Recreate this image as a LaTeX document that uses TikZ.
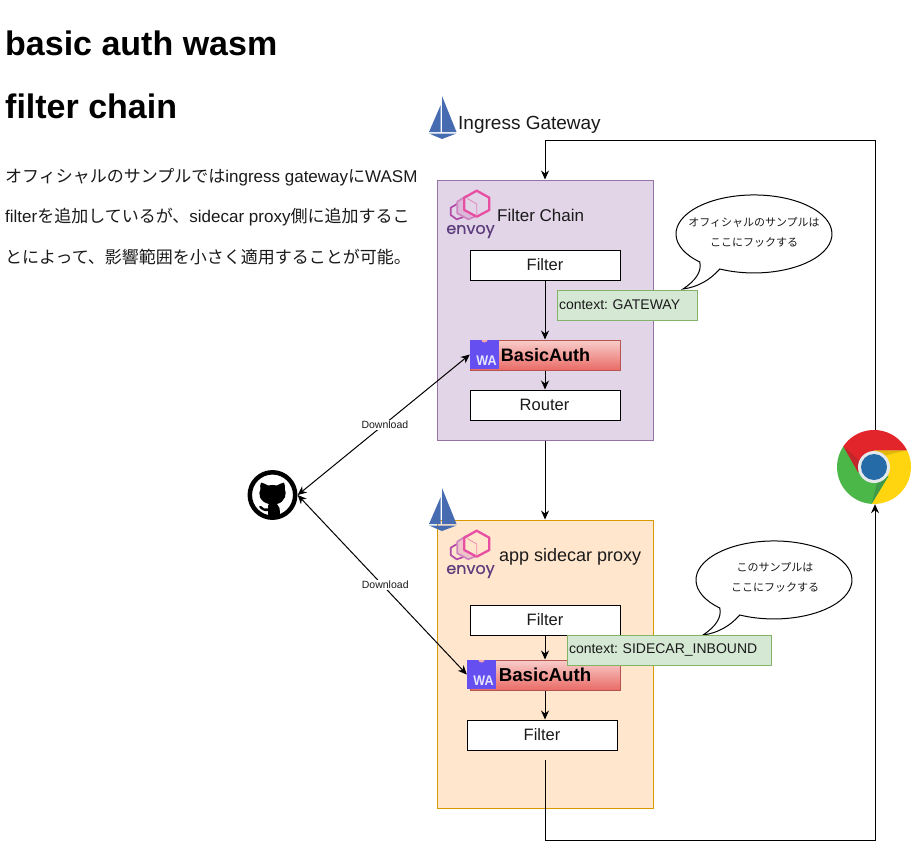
\documentclass[tikz,border=0pt]{standalone}
\usepackage{fontspec}
\setmainfont{Liberation Sans}
\newfontfamily\cjk{Noto Sans CJK JP}
\newfontfamily\logofont[FakeBold=0.4]{Poppins}
\usetikzlibrary{arrows.meta}
\frenchspacing
\definecolor{txt}{HTML}{1A1A1A}
\definecolor{sail}{HTML}{466BB0}
\definecolor{evA}{HTML}{E84FA3}
\definecolor{evB}{HTML}{CE85C0}
\definecolor{evC}{HTML}{B24AA8}
\definecolor{evT}{HTML}{5C3B7C}
\definecolor{pinkA}{HTML}{F8CECC}
\definecolor{pinkB}{HTML}{EA6B66}
\definecolor{pinkLine}{HTML}{B85450}
\definecolor{ctxline}{HTML}{82B366}
\definecolor{ctxfill}{HTML}{D5E8D4}
\definecolor{wablue}{HTML}{654FF0}
\definecolor{wanotch}{HTML}{F4A9A9}
\definecolor{purpleFill}{HTML}{E1D5E7}
\definecolor{purpleLine}{HTML}{9673A6}
\definecolor{orangeFill}{HTML}{FFE6CC}
\definecolor{orangeLine}{HTML}{D79B00}
\definecolor{chromeG}{HTML}{4CB749}
\definecolor{chromeDG}{HTML}{3E9A46}
\definecolor{chromeY}{HTML}{FFD50F}
\definecolor{chromeDY}{HTML}{E0B90C}
\definecolor{chromeR}{HTML}{E2242B}
\definecolor{chromeDR}{HTML}{C2272B}
\definecolor{chromeRing}{HTML}{E6E9EC}
\definecolor{chromeB}{HTML}{256BA8}
\tikzset{
  box/.style={draw=black,fill=white,line width=1pt,minimum width=150pt,minimum height=30pt,inner sep=0pt,font=\fontsize{16.5}{18}\selectfont,text=txt},
  zone/.style={line width=1pt,minimum width=216pt,inner sep=0pt},
  authbox/.style={draw=pinkLine,line width=1pt,top color=pinkA,bottom color=pinkB,minimum width=150pt,minimum height=30pt,inner sep=0pt,text=black,font=\bfseries\fontsize{18}{20}\selectfont},
  ctx/.style={draw=ctxline,fill=ctxfill,line width=1pt,minimum height=30pt,inner xsep=2pt,inner ysep=0pt,align=left,font=\fontsize{14}{16}\selectfont,text=txt},
  conn/.style={draw=black,line width=1pt,-{Stealth[length=9pt,width=8pt]}},
  conntwo/.style={draw=black,line width=1pt,{Stealth[length=9pt,width=8pt]}-{Stealth[length=9pt,width=8pt]}},
  dl/.style={fill=white,inner sep=1pt,font=\fontsize{10.5}{12}\selectfont,text=txt},
  waicon/.style={fill=wablue,inner sep=0pt,minimum width=29pt,minimum height=29pt},
  watext/.style={inner sep=0pt,text=white!85!wablue,font=\bfseries\fontsize{14}{14}\selectfont},
  balloon/.style={draw=black,fill=white,line width=1pt},
  balloontext/.style={align=center,inner sep=0pt,font=\cjk\fontsize{11}{20}\selectfont,text=txt},
  plaintext/.style={inner sep=0pt,text=txt}
}
\newcommand{\envoylogo}[1]{%
  \draw[evC,line width=1.7pt,line join=round] (459.3,202.7) -- (450.7,207.7) -- (450.7,215) -- (456.7,219.3) -- (463.5,217);
  \draw[evB,line width=1.7pt,line join=round,fill=evB!35!#1] (466,196) -- (457.3,201.7) -- (457.3,213.3) -- (468.3,219.3) -- (475,216.5) -- (470,205) -- cycle;
  \draw[evA,line width=2.3pt,line join=round,fill=#1] (476.7,190.7) -- (489.3,197.7) -- (489.3,210) -- (476.7,216.7) -- (464.3,210) -- (464.3,197.7) -- cycle;
  \draw[evA!60!#1,line width=.8pt] (467.3,198.5) -- (476.7,204) -- (476.7,216);
  \node[inner sep=0pt,text=evT,font=\logofont\fontsize{16}{18}\selectfont] at (470.5,231.5) {envoy};
}
\newcommand{\sailmark}{%
  \fill[sail] (442,96) -- (456.5,132) -- (442,132) -- cycle;
  \fill[sail] (440.7,105) -- (440.7,132) -- (429,132) -- cycle;
  \fill[sail] (429,133.5) -- (456.5,133.5) -- (442,139) -- cycle;
}
\begin{document}
\begin{tikzpicture}[x=1pt,y=1pt,yscale=-1]
\useasboundingbox[fill=white] (0,0) rectangle (913,849);

% title and text
\node[anchor=west,plaintext,align=left,text=black,font=\bfseries\fontsize{34}{63}\selectfont] (title) at (5,74.5) {basic auth wasm\\filter chain};
\node[anchor=west,plaintext,align=left,font=\fontsize{17}{40.5}\selectfont] (para) at (5,216.5) {{\cjk オフィシャルのサンプルでは}ingress gateway{\cjk に}WASM\\filter{\cjk を追加しているが、}sidecar proxy{\cjk 側に追加するこ}\\{\cjk とによって、影響範囲を小さく適用することが可能。}};

% zones
\node[zone,draw=purpleLine,fill=purpleFill,minimum height=260pt] (gw) at (545,310) {};
\node[zone,draw=orangeLine,fill=orangeFill,minimum height=288pt] (app) at (545,664) {};

% istio marks
\sailmark
\begin{scope}[shift={(0,392)}]\sailmark\end{scope}
\node[anchor=west,plaintext,font=\fontsize{19}{20}\selectfont] (gwlabel) at (458,125) {Ingress Gateway};

% envoy logos
\envoylogo{purpleFill}
\begin{scope}[shift={(0,340)}]\envoylogo{orangeFill}\end{scope}
\node[anchor=west,plaintext,font=\fontsize{17}{18}\selectfont] (fc) at (497,215) {Filter Chain};
\node[anchor=west,plaintext,font=\fontsize{18}{20}\selectfont] (asp) at (499,557) {app sidecar proxy};

% boxes
\node[box] (f1) at (545,265) {Filter};
\node[authbox] (ba1) at (545,355) {\hspace*{1pt}BasicAuth};
\node[box] (r1) at (545,405) {\hspace*{-1pt}Router};
\node[box] (f2) at (545,620) {Filter};
\node[authbox] (ba2) at (545,675) {\fontsize{18.7}{20}\selectfont BasicAuth};
\node[box] (f3) at (542,735) {Filter};

% WA icons
\node[waicon] (wa1) at (484.5,354.5) {};
\fill[wanotch] (481.5,340) arc[start angle=180,end angle=0,x radius=3,y radius=2.5] -- cycle;
\node[watext] (wat1) at (486.5,360.5) {\scalebox{.9}[1]{WA}};
\node[waicon] (wa2) at (481.5,674.5) {};
\fill[wanotch] (478.5,660) arc[start angle=180,end angle=0,x radius=3,y radius=2.5] -- cycle;
\node[watext] (wat2) at (483.5,680.5) {\scalebox{.9}[1]{WA}};

% balloons
\draw[balloon] (683,289) .. controls (695,281) and (702,272) .. (699.8,262)
  arc[start angle=134,end angle=476,x radius=78,y radius=39]
  .. controls (710,280) and (698,287) .. (683,289) -- cycle;
\node[balloontext] (b1) at (754,232) {オフィシャルのサンプルは\\ここにフックする};
\draw[balloon] (703,635) .. controls (715,627) and (722,618) .. (719.8,608)
  arc[start angle=134,end angle=476,x radius=78,y radius=39]
  .. controls (730,626) and (718,633) .. (703,635) -- cycle;
\node[balloontext] (b2) at (775,577) {このサンプルは\\ここにフックする};

% chrome
\node[circle,inner sep=0pt,minimum size=74pt] (chrome) at (875,467) {};
\fill[chromeG] (871.7,503.9) arc[start angle=93.6,end angle=214.2,radius=37] -- (874,467) -- (888.5,476) -- cycle;
\fill[chromeY] (907,450.3) arc[start angle=-26.8,end angle=93.6,radius=37] -- (888.5,476) -- (874,467) -- (874,450.3) -- cycle;
\fill[chromeDY] (907,450.3) -- (874,450.3) -- (884,456) -- (893,453.5) -- cycle;
\fill[chromeDG] (871.7,503.9) -- (888.5,476) -- (877,483) -- cycle;
\fill[chromeR] (843.4,446.2) arc[start angle=214.2,end angle=333.2,radius=37] -- (874,450.3) -- (858,472) -- cycle;
\fill[chromeDR] (843.4,446.2) -- (858,472) -- (861,462) -- cycle;
\fill[chromeRing] (874,467) circle[radius=16];
\fill[chromeB] (874,467) circle[radius=13];

% github
\node[circle,inner sep=0pt,minimum size=50pt] (gh) at (272.5,495) {};
\draw[black,line width=4.5pt] (272.5,495) circle[radius=22.7];
\fill[black] (261,482.5) .. controls (264,483) and (266,484.5) .. (268,485.5)
  .. controls (271,484.8) and (274,484.8) .. (277,485.5)
  .. controls (279,484.5) and (281,483) .. (284,482.5)
  .. controls (285,485) and (285.2,487) .. (284.8,489)
  .. controls (287,493) and (285.5,502) .. (277,504)
  .. controls (279.5,506) and (280,508) .. (280,517) -- (268,517)
  -- (268,511) .. controls (264,512) and (260,509) .. (259,506.5)
  -- (261,506) .. controls (263,508) and (265,509.5) .. (268,508.5)
  .. controls (268,506) and (268,505) .. (269,504)
  .. controls (259,502) and (258,493) .. (260.5,489)
  .. controls (260,487) and (260,485) .. (261,482.5) -- cycle;

% connectors
\coordinate (topcorner) at (545,140);
\coordinate (appout) at (545,760);
\coordinate (botcorner) at (545,840);
\draw[conn] (chrome.north) |- (topcorner) -- (gw.north);
\draw[conn] (gw.south) -- (app.north);
\draw[conn] (f1.south) -- (ba1.north);
\draw[conn] (ba1.south) -- (r1.north);
\draw[conn] (f2.south) -- (ba2.north);
\draw[conn] (ba2.south) -- (ba2.south |- f3.north);
\draw[conn] (appout) -- (botcorner) -| (chrome.south);
\draw[conntwo] (gh.east) -- node[dl,pos=0.498,xshift=1.5pt] (d1) {Download} (wa1.west);
\draw[conntwo] (gh.east) -- node[dl,pos=0.5,xshift=3pt] (d2) {Download} (wa2.west);

% context tags, above the connectors and balloons
\node[ctx,minimum width=140pt,text width=136pt] (c1) at (627,305) {\raisebox{-1pt}{context: GATEWAY}};
\node[ctx,minimum width=204pt,text width=200pt] (c2) at (669,650) {\raisebox{-1pt}{context: SIDECAR\_INBOUND}};
\end{tikzpicture}
\end{document}
